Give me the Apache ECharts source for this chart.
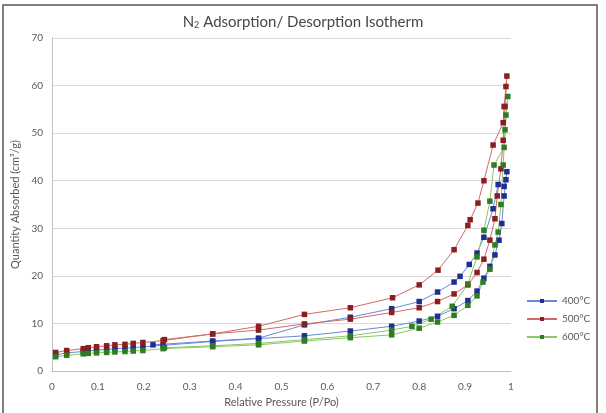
<!DOCTYPE html>
<html>
<head>
<meta charset="utf-8">
<script src="https://cdn.jsdelivr.net/npm/echarts@6/dist/echarts.min.js"></script>
<style>
  html, body { margin: 0; padding: 0; background: #fff; }
  #chart { width: 606px; height: 413px; }
</style>
</head>
<body>
<div id="chart"></div>
<script>
  // 400°C
  const p400Ads = [0.008, 0.032, 0.068, 0.079, 0.097, 0.119, 0.137, 0.159, 0.177, 0.198, 0.242, 0.35, 0.45, 0.55, 0.65, 0.74, 0.80, 0.84, 0.876, 0.906, 0.926, 0.941, 0.954, 0.965, 0.974, 0.980, 0.985, 0.991]
  const q400Ads = [3.4, 3.8, 4.1, 4.2, 4.4, 4.5, 4.7, 4.8, 4.9, 5.1, 5.4, 6.2, 6.8, 7.4, 8.4, 9.4, 10.5, 11.5, 13.1, 14.8, 16.8, 19.5, 22.0, 24.4, 27.5, 31.0, 36.8, 41.9]
  const p400Des = [0.989, 0.985, 0.972, 0.961, 0.941, 0.926, 0.909, 0.889, 0.876, 0.84, 0.80, 0.74, 0.65, 0.55, 0.45, 0.35, 0.22]
  const q400Des = [40.2, 38.8, 39.2, 34.1, 28.1, 24.8, 22.4, 19.9, 18.7, 16.6, 14.6, 13.1, 11.3, 9.7, 6.9, 6.3, 5.5]

  // 500°C
  const p500Ads = [0.008, 0.032, 0.068, 0.079, 0.097, 0.119, 0.137, 0.159, 0.177, 0.198, 0.242, 0.35, 0.45, 0.55, 0.65, 0.74, 0.80, 0.84, 0.876, 0.906, 0.926, 0.941, 0.954, 0.965, 0.970, 0.978, 0.983, 0.987, 0.991]
  const q500Ads = [3.9, 4.3, 4.7, 4.9, 5.1, 5.3, 5.5, 5.6, 5.8, 6.0, 6.4, 7.8, 8.6, 9.9, 10.9, 12.3, 13.3, 14.6, 16.2, 18.1, 20.7, 23.5, 27.5, 32.0, 36.8, 42.5, 48.5, 55.6, 62.0]
  const p500Des = [0.989, 0.985, 0.983, 0.961, 0.941, 0.928, 0.911, 0.906, 0.876, 0.841, 0.80, 0.742, 0.65, 0.55, 0.45, 0.35, 0.245]
  const q500Des = [59.8, 55.6, 52.2, 47.5, 40.0, 35.3, 31.8, 30.6, 25.5, 21.2, 18.1, 15.4, 13.3, 11.9, 9.4, 7.8, 6.6]

  // 600°C
  const p600Ads = [0.008, 0.032, 0.068, 0.079, 0.097, 0.119, 0.137, 0.159, 0.177, 0.198, 0.242, 0.35, 0.45, 0.55, 0.65, 0.74, 0.80, 0.84, 0.876, 0.906, 0.926, 0.939, 0.954, 0.965, 0.972, 0.978, 0.983, 0.987, 0.993]
  const q600Ads = [3.0, 3.3, 3.6, 3.7, 3.8, 3.9, 4.0, 4.1, 4.2, 4.3, 4.7, 5.1, 5.5, 6.3, 7.0, 7.6, 9.0, 10.3, 11.7, 13.8, 15.8, 18.7, 21.4, 26.5, 29.2, 35.0, 43.3, 50.7, 57.7]
  const p600Des = [0.989, 0.985, 0.963, 0.954, 0.941, 0.926, 0.906, 0.872, 0.826, 0.784, 0.74, 0.65, 0.55, 0.45, 0.35, 0.245]
  const q600Des = [53.8, 47.0, 43.3, 35.7, 29.6, 24.0, 18.3, 13.6, 10.9, 9.4, 8.6, 7.4, 6.6, 5.8, 5.3, 4.9]

  const seriesNames = ['400°C', '500°C', '600°C']
  const lineColors = ['#6B88D6', '#D46A66', '#8CC66A']
  const markColors = ['#1F2F8F', '#8B1E1E', '#2E7D22']

  const toPairs = (ps, qs) => ps.map((p, i) => [p, qs[i]])
  const curves = [
    toPairs(p400Ads, q400Ads).concat(toPairs(p400Des, q400Des)),
    toPairs(p500Ads, q500Ads).concat(toPairs(p500Des, q500Des)),
    toPairs(p600Ads, q600Ads).concat(toPairs(p600Des, q600Des))
  ]

  const font = 'Lato, "Open Sans", sans-serif'
  const chart = echarts.init(document.getElementById('chart'))

  chart.setOption({
    animation: false,
    backgroundColor: '#fff',
    textStyle: { fontFamily: font },
    graphic: [{
      type: 'rect',
      shape: { x: 3, y: 5, width: 594, height: 420 },
      style: { fill: 'none', stroke: '#555', lineWidth: 1.5 },
      silent: true
    }],
    title: {
      text: 'N{sub|2} Adsorption/ Desorption Isotherm',
      left: 'center',
      top: 9,
      textStyle: {
        fontFamily: font,
        fontSize: 15,
        fontWeight: 'normal',
        color: '#474747',
        rich: {
          sub: { fontSize: 9, color: '#474747', verticalAlign: 'bottom', padding: [7, 0, 0, 0] }
        }
      }
    },
    legend: {
      orient: 'vertical',
      left: 521,
      top: 291,
      itemGap: 8,
      itemWidth: 30,
      itemHeight: 5,
      data: seriesNames,
      textStyle: { fontFamily: font, fontSize: 10, color: '#595959' }
    },
    grid: { left: 52, right: 95, top: 38, bottom: 34 },
    xAxis: {
      type: 'value',
      min: 0,
      max: 1,
      interval: 0.1,
      name: 'Relative Pressure (P/Po)',
      nameLocation: 'middle',
      nameGap: 26,
      nameTextStyle: { fontFamily: font, fontSize: 11, color: '#595959' },
      axisLine: { lineStyle: { color: '#BFBFBF' } },
      axisTick: { show: false },
      splitLine: { show: false },
      axisLabel: { fontFamily: font, fontSize: 10, color: '#595959', margin: 11 }
    },
    yAxis: {
      type: 'value',
      min: 0,
      max: 70,
      interval: 10,
      name: 'Quantity Absorbed (cm³/g)',
      nameLocation: 'middle',
      nameGap: 31,
      nameTextStyle: { fontFamily: font, fontSize: 11, color: '#595959' },
      axisLine: { show: true, lineStyle: { color: '#BFBFBF' } },
      axisTick: { show: false },
      splitLine: { lineStyle: { color: '#D9D9D9' } },
      axisLabel: { fontFamily: font, fontSize: 10, color: '#595959', margin: 9 }
    },
    series: seriesNames.map((name, i) => ({
      name: name,
      type: 'line',
      data: curves[i],
      symbol: 'rect',
      symbolSize: 5.5,
      showAllSymbol: true,
      lineStyle: { color: lineColors[i], width: 1 },
      itemStyle: { color: markColors[i] }
    }))
  })
</script>
</body>
</html>
